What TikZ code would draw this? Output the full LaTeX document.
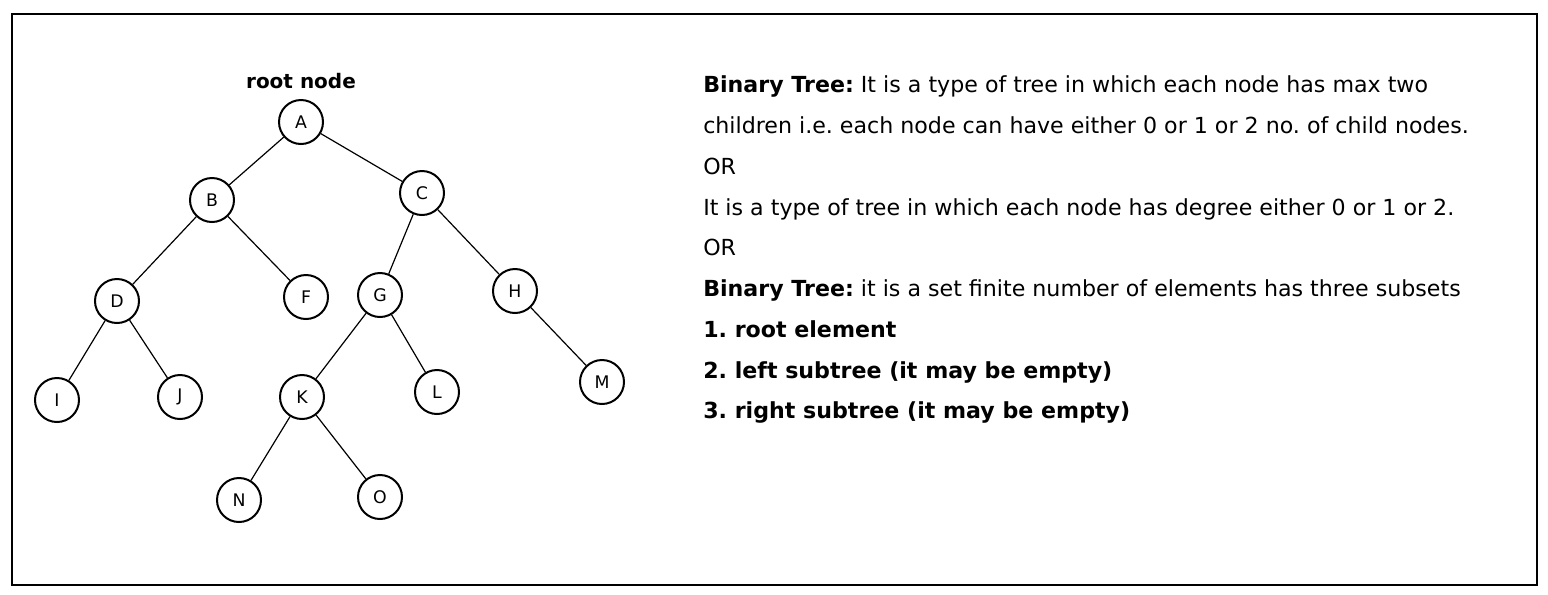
\documentclass[tikz,border=0pt]{standalone}
\usepackage{fontspec}
\setmainfont{DejaVu Sans}
\usetikzlibrary{positioning}
\frenchspacing

\begin{document}
\begin{tikzpicture}[
  x=0.75pt, y=-0.75pt,
  treenode/.style={
    draw=black,
    circle,
    line width=1.5pt,
    minimum size=33pt,
    inner sep=0pt,
    font=\fontsize{13}{14}\selectfont
  },
  treeedge/.style={
    line width=0.9pt
  },
  textline/.style={
    anchor=base west,
    inner sep=0pt,
    font=\fontsize{16.6}{18}\selectfont
  }
]

  \useasboundingbox (0,0) rectangle (1548,594);

  % Outer frame
  \draw[line width=2.2pt] (12,14) rectangle (1537,585);

  % Tree nodes
  \node[treenode] (A) at (301,122) {A};
  \node[treenode] (B) at (212,200) {B};
  \node[treenode] (C) at (422,193) {C};
  \node[treenode] (D) at (117,301) {D};
  \node[treenode] (F) at (306,297) {F};
  \node[treenode] (G) at (380,295) {G};
  \node[treenode] (H) at (515,291) {H};
  \node[treenode] (I) at (57,400) {I};
  \node[treenode] (J) at (180,397) {J};
  \node[treenode] (K) at (302,397) {K};
  \node[treenode] (L) at (437,392) {L};
  \node[treenode] (M) at (602,382) {M};
  \node[treenode] (N) at (239,500) {N};
  \node[treenode] (O) at (380,497) {O};

  % Root label
  \node[font=\fontsize{15}{18}\selectfont\bfseries, above=4pt of A] (rootlbl) {root node};

  % Edges
  \draw[treeedge] (A) -- (B);
  \draw[treeedge] (A) -- (C);
  \draw[treeedge] (B) -- (D);
  \draw[treeedge] (B) -- (F);
  \draw[treeedge] (C) -- (G);
  \draw[treeedge] (C) -- (H);
  \draw[treeedge] (D) -- (I);
  \draw[treeedge] (D) -- (J);
  \draw[treeedge] (G) -- (K);
  \draw[treeedge] (G) -- (L);
  \draw[treeedge] (H) -- (M);
  \draw[treeedge] (K) -- (N);
  \draw[treeedge] (K) -- (O);

  % Definition text
  \node[textline] (t1) at (703,92) {\textbf{Binary Tree:} It is a type of tree in which each node has max two};
  \node[textline] (t2) at (703,133) {children i.e. each node can have either 0 or 1 or 2 no. of child nodes.};
  \node[textline] (t3) at (703,174) {OR};
  \node[textline] (t4) at (703,215) {It is a type of tree in which each node has degree either 0 or 1 or 2.};
  \node[textline] (t5) at (703,255) {OR};
  \node[textline] (t6) at (703,296) {\textbf{Binary Tree:} it is a set finite number of elements has three subsets};
  \node[textline] (t7) at (703,337) {\textbf{1. root element}};
  \node[textline] (t8) at (703,378) {\textbf{2. left subtree (it may be empty)}};
  \node[textline] (t9) at (703,418) {\textbf{3. right subtree (it may be empty)}};

\end{tikzpicture}
\end{document}
